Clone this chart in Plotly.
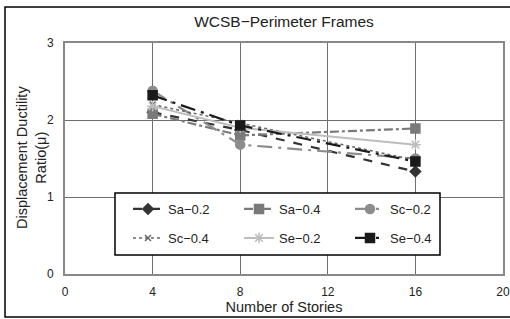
import plotly.graph_objects as go

stories = [4, 8, 16]
series_names = ["Sa−0.2", "Sa−0.4", "Sc−0.2", "Sc−0.4", "Se−0.2", "Se−0.4"]
sa_02 = [2.10, 1.87, 1.33]
sa_04 = [2.08, 1.80, 1.89]
sc_02 = [2.38, 1.68, 1.50]
sc_04 = [2.20, 1.96, 1.48]
se_02 = [2.18, 1.90, 1.68]
se_04 = [2.32, 1.93, 1.46]
x_ticks = [0, 4, 8, 12, 16, 20]
y_ticks = [0, 1, 2, 3]

values = [sa_02, sa_04, sc_02, sc_04, se_02, se_04]
legend_rows = ["legend", "legend", "legend", "legend2", "legend2", "legend2"]
styles = [
    dict(color="#333333", dash="dash", symbol="diamond", msize=8, width=2.2),
    dict(color="#7a7a7a", dash="dashdot", symbol="square", msize=9, width=2.2),
    dict(color="#8c8c8c", dash="longdashdot", symbol="circle", msize=9, width=2.2),
    dict(color="#666666", dash="dot", symbol="x-thin-open", msize=6, width=1.5),
    dict(color="#bdbdbd", dash="solid", symbol="asterisk-open", msize=9, width=2),
    dict(color="#1a1a1a", dash="longdashdot", symbol="square", msize=9, width=2.2),
]

fig = go.Figure()
for name, vals, st, lg in zip(series_names, values, styles, legend_rows):
    fig.add_trace(go.Scatter(
        x=stories, y=vals, name=name, mode="lines+markers", legend=lg,
        line=dict(color=st["color"], dash=st["dash"], width=st["width"]),
        marker=dict(symbol=st["symbol"], size=st["msize"], color=st["color"],
                    line=dict(color=st["color"], width=1.5)),
    ))

font = "Liberation Sans, Arial, sans-serif"
W, H, L, T, B, R = 510, 319, 65, 43, 45, 7
pw, ph = W - L - R, H - T - B


def px_x(px):
    return (px - L) / pw


def px_y(py):
    return (H - B - py) / ph


legend_common = dict(orientation="h", xanchor="left", yanchor="middle",
                     bgcolor="rgba(0,0,0,0)", borderwidth=0,
                     entrywidth=66, entrywidthmode="pixels",
                     font=dict(size=13, color="#222"))

fig.update_layout(
    width=W, height=H,
    margin=dict(l=L, r=R, t=T, b=B, autoexpand=False),
    paper_bgcolor="white", plot_bgcolor="white",
    font=dict(family=font, size=12, color="#222"),
    title=dict(text="WCSB−Perimeter Frames", x=0.5, xref="paper", y=1 - 22 / H,
               xanchor="center", yanchor="middle", font=dict(size=15.5, color="#222")),
    xaxis=dict(range=[0, 20], tickvals=x_ticks, showgrid=True, gridcolor="#6e6e6e",
               gridwidth=1.4, showline=True, linecolor="#888", linewidth=2, mirror=True,
               zeroline=False, ticks="", ticklabelstandoff=6,
               title=dict(text="Number of Stories", font=dict(size=14.5), standoff=0)),
    yaxis=dict(range=[0, 3], tickvals=y_ticks, showgrid=True, gridcolor="#6e6e6e",
               gridwidth=1.4, showline=True, linecolor="#888", linewidth=2, mirror=True,
               zeroline=False, ticks="", ticklabelstandoff=7),
    legend=dict(x=px_x(128), y=px_y(209), **legend_common),
    legend2=dict(x=px_x(128), y=px_y(238), **legend_common),
    showlegend=True,
)
fig.add_annotation(text="Displacement Ductility<br>Ratio(μ)", xref="paper", yref="paper",
                   x=px_x(31), y=px_y(158), textangle=-90, showarrow=False,
                   font=dict(size=14.5, color="#222"), xanchor="center", yanchor="middle")
# legend frame
fig.add_shape(type="rect", xref="paper", yref="paper",
              x0=px_x(115), x1=px_x(440), y0=px_y(255), y1=px_y(193),
              line=dict(color="black", width=1.5), fillcolor="white", layer="above")
# outer chart frame
fig.add_shape(type="rect", xref="paper", yref="paper",
              x0=px_x(5), x1=px_x(514), y0=px_y(317), y1=px_y(7),
              line=dict(color="black", width=1.5), layer="below")
fig.write_html("out.html", config={"displayModeBar": False},
               post_script="document.body.style.margin='0';document.body.style.overflow='hidden';")
